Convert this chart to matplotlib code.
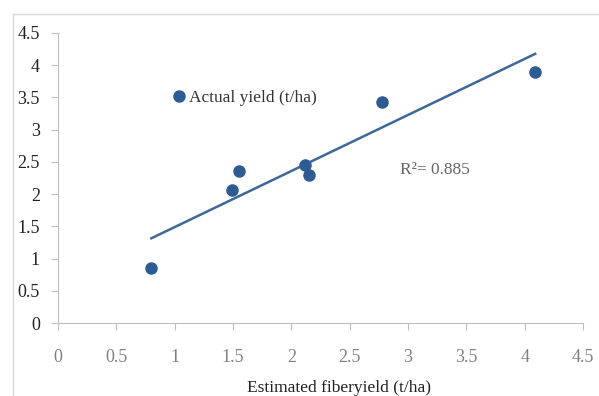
import numpy as np
import matplotlib.pyplot as plt
from matplotlib.lines import Line2D

# data
estimated = [0.80, 1.49, 1.55, 2.12, 2.15, 2.78, 4.09]
actual = [0.85, 2.07, 2.36, 2.45, 2.30, 3.43, 3.90]
r2_text = "R²= 0.885"
xticks = [0, 0.5, 1, 1.5, 2, 2.5, 3, 3.5, 4, 4.5]
yticks = [0, 0.5, 1, 1.5, 2, 2.5, 3, 3.5, 4, 4.5]

plt.rcParams['font.family'] = ['Liberation Serif', 'DejaVu Serif']

dot_col = '#2E5C92'
line_col = '#3D6898'
axis_col = '#BFBFBF'

fig = plt.figure(figsize=(5.99, 3.96), dpi=100)
ax = fig.add_axes([58/599, 1-323/396, 525/599, 290/396])

# outer chart border (top and left visible)
fig.add_artist(Line2D([13/599, 13/599], [0, 1-14/396], color='#D9D9D9', lw=1))
fig.add_artist(Line2D([13/599, 1], [1-14/396, 1-14/396], color='#D9D9D9', lw=1))

ax.plot(estimated, actual, 'o', color=dot_col, markersize=8, label='Actual yield (t/ha)', zorder=3)

# linear trendline over the data range
k, b = np.polyfit(estimated, actual, 1)
xs = np.array([min(estimated), max(estimated)])
ax.plot(xs, k*xs + b, color=line_col, lw=1.8, zorder=2)

ax.text(2.93, 2.38, r2_text, fontsize=12.5, color='#666666', ha='left', va='center')

ax.set_xlim(0, 4.5)
ax.set_ylim(0, 4.5)
ax.set_xticks(xticks)
ax.set_yticks(yticks)
ax.set_xticklabels([f'{t:g}' for t in xticks], color='#808080', fontsize=13)
ax.set_yticklabels([f'{t:g}' for t in yticks], color='#222222', fontsize=13)
ax.tick_params(axis='x', direction='out', length=5, color=axis_col, pad=14)
ax.tick_params(axis='y', direction='out', length=5, color=axis_col, pad=8)

for s in ['top', 'right']:
    ax.spines[s].set_visible(False)
for s in ['left', 'bottom']:
    ax.spines[s].set_color(axis_col)

ax.set_xlabel('Estimated fiberyield (t/ha)', fontsize=12.5, color='#222222', va='center')
ax.xaxis.set_label_coords((339-58)/525, (323-388)/290)

ax.legend(loc='center left', bbox_to_anchor=(173/599, 1-98/396), bbox_transform=fig.transFigure,
          frameon=False, borderpad=0, borderaxespad=0, handlelength=0.7, handletextpad=0.2,
          fontsize=12.5, labelcolor='#333333')

fig.savefig('out.png', dpi=100)
